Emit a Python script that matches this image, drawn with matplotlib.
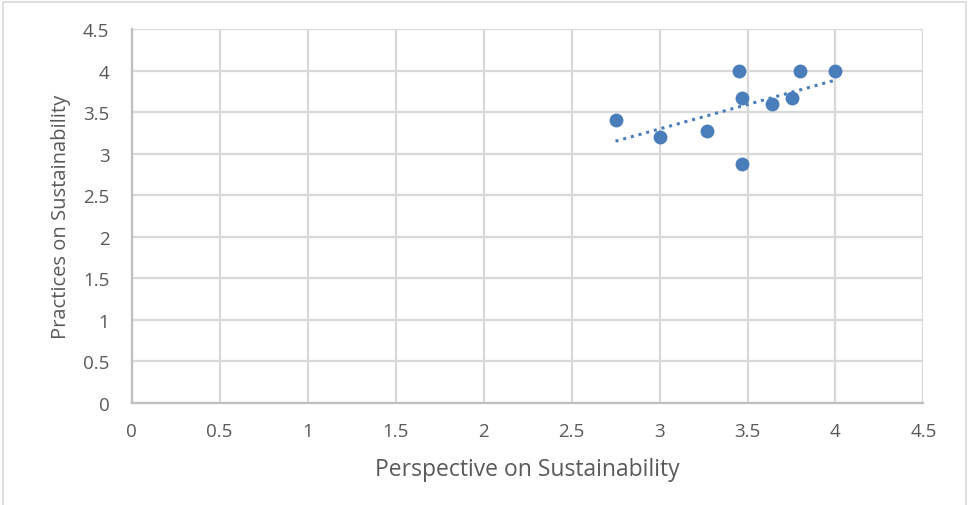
import numpy as np
import matplotlib.pyplot as plt
from matplotlib.patches import Rectangle

# values
perspective = [2.75, 3.0, 3.27, 3.45, 3.47, 3.47, 3.64, 3.75, 3.80, 4.0]
practices = [3.40, 3.20, 3.27, 4.0, 3.67, 2.87, 3.60, 3.67, 4.0, 4.0]
ticks = [0, 0.5, 1, 1.5, 2, 2.5, 3, 3.5, 4, 4.5]
tick_labels = ["0", "0.5", "1", "1.5", "2", "2.5", "3", "3.5", "4", "4.5"]

blue = "#4a7ebb"
grey_txt = "#595959"
grid_c = "#d9d9d9"

plt.rcParams['font.family'] = ['Open Sans', 'DejaVu Sans']

fig = plt.figure(figsize=(9.68, 5.06), dpi=100)
ax = fig.add_axes([0.136, 0.2016, 0.818, 0.7391])

ax.scatter(perspective, practices, s=100, color=blue, zorder=3, linewidths=0)

# linear trendline
k, b = np.polyfit(perspective, practices, 1)
xs = np.array([min(perspective), max(perspective)])
ax.plot(xs, k * xs + b, color=blue, linestyle=(0, (1, 1.6)), linewidth=2.2, zorder=2)

ax.set_xlim(0, 4.5)
ax.set_ylim(0, 4.5)
ax.set_xticks(ticks)
ax.set_xticklabels(tick_labels)
ax.set_yticks(ticks)
ax.set_yticklabels(tick_labels)
ax.grid(True, color=grid_c, linewidth=1.6, zorder=0)
ax.set_axisbelow(True)

for s in ['top', 'right']:
    ax.spines[s].set_visible(False)
for s in ['left', 'bottom']:
    ax.spines[s].set_color("#bfbfbf")
    ax.spines[s].set_linewidth(1.6)

ax.tick_params(length=0, labelsize=13.5, labelcolor=grey_txt)
ax.tick_params(axis='x', pad=14)
ax.tick_params(axis='y', pad=16)
ax.set_xlabel("Perspective on Sustainability", fontsize=16.5, color=grey_txt, labelpad=12)
ax.set_ylabel("Practices on Sustainability", fontsize=14.5, color=grey_txt, labelpad=9)

# chart-area border
fig.patches.append(Rectangle((3 / 968, -0.05), 963 / 968, 1 - 3 / 506 + 0.05,
                             transform=fig.transFigure, fill=False,
                             edgecolor="#d9d9d9", linewidth=1.2))

fig.savefig("out.png", dpi=100)
